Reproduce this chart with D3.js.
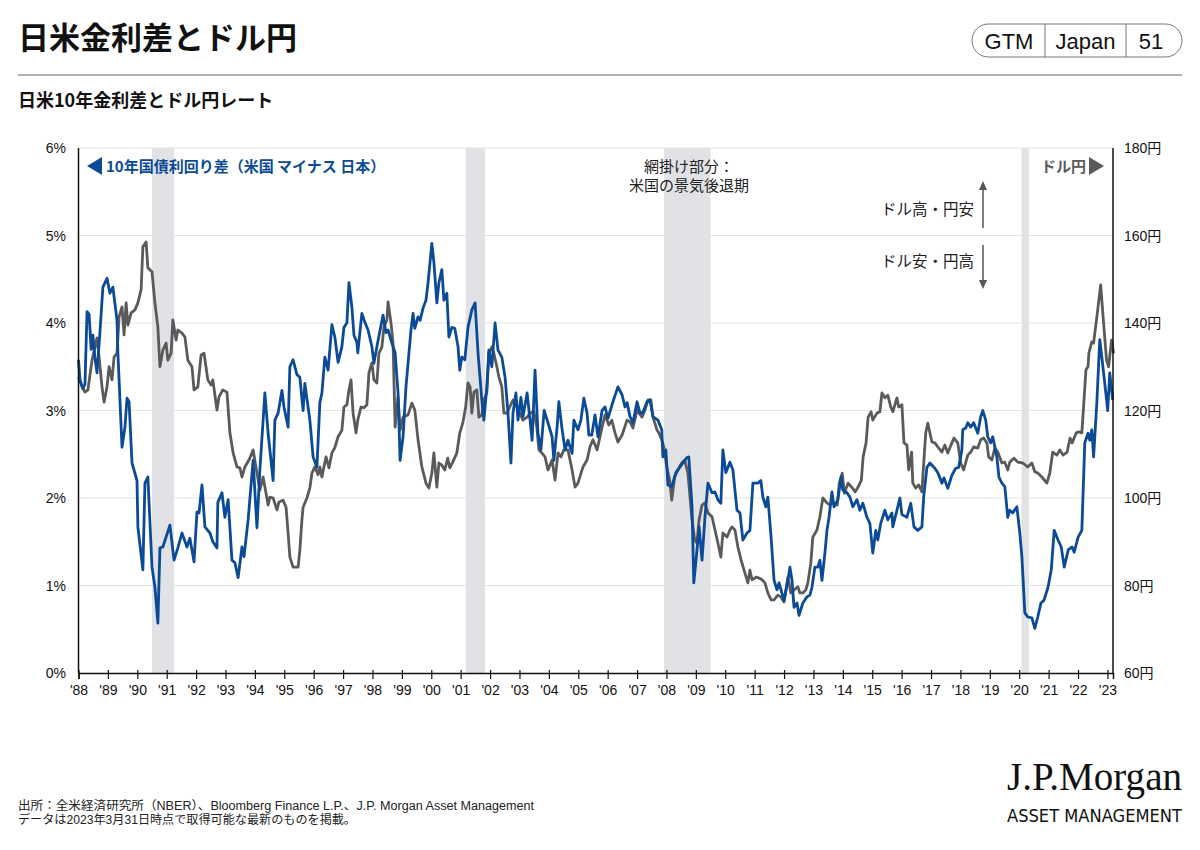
<!DOCTYPE html>
<html><head><meta charset="utf-8">
<script src="https://cdn.jsdelivr.net/npm/d3@7"></script>
<style>
body{margin:0;background:#fff;}
svg{display:block;font-family:"Liberation Sans","Noto Sans CJK JP",sans-serif;}
.jp{font-family:"Noto Sans CJK JP","Liberation Sans",sans-serif;}
</style></head><body>
<svg id="c" width="1200" height="850"></svg>
<script>
// ---- data ----
const yearTicks = d3.range(1988, 2024);
const spreadTicks = [0,1,2,3,4,5,6];
const yenTicks = [60,80,100,120,140,160,180];
const recessions = [[1990.5,1991.25],[2001.17,2001.83],[2007.92,2009.5],[2020.08,2020.33]];
const spreadSeries = [
[1988.00,3.58],[1988.05,3.35],[1988.15,3.25],[1988.22,3.3],[1988.29,4.13],[1988.36,4.1],[1988.43,3.7],[1988.49,3.86],[1988.56,3.6],[1988.63,3.43],[1988.73,3.9],[1988.83,4.41],[1988.97,4.51],[1989.07,4.34],[1989.17,4.41],[1989.31,4.03],[1989.34,3.66],[1989.48,2.58],[1989.58,2.81],[1989.65,3.14],[1989.72,3.1],[1989.82,2.4],[1989.99,2.2],[1990.02,1.67],[1990.19,1.18],[1990.26,2.17],[1990.36,2.24],[1990.50,1.21],[1990.60,0.98],[1990.70,0.57],[1990.77,1.43],[1990.87,1.44],[1991.11,1.69],[1991.25,1.29],[1991.38,1.43],[1991.52,1.6],[1991.69,1.44],[1991.79,1.54],[1991.93,1.27],[1992.03,1.84],[1992.10,1.83],[1992.20,2.15],[1992.30,1.67],[1992.47,1.6],[1992.57,1.5],[1992.71,1.43],[1992.74,1.95],[1992.88,2.06],[1992.98,1.78],[1993.09,1.98],[1993.22,1.29],[1993.32,1.26],[1993.43,1.09],[1993.56,1.44],[1993.63,1.33],[1993.77,1.75],[1993.94,2.43],[1994.07,1.66],[1994.17,2.32],[1994.34,3.2],[1994.45,2.74],[1994.62,2.2],[1994.68,2.89],[1994.79,2.97],[1994.92,3.23],[1994.99,3.04],[1995.13,2.81],[1995.19,3.5],[1995.30,3.58],[1995.43,3.41],[1995.53,3.38],[1995.64,3.0],[1995.70,3.31],[1995.87,2.89],[1995.98,2.47],[1996.11,2.35],[1996.21,3.09],[1996.28,3.2],[1996.38,3.61],[1996.49,3.46],[1996.62,3.98],[1996.72,3.84],[1996.83,3.55],[1996.96,3.73],[1997.03,3.95],[1997.13,4.0],[1997.20,4.46],[1997.30,4.18],[1997.37,3.86],[1997.47,3.78],[1997.50,3.66],[1997.64,4.11],[1997.74,4.01],[1997.85,3.92],[1997.98,3.73],[1998.05,3.54],[1998.15,3.73],[1998.26,3.92],[1998.36,4.09],[1998.46,3.89],[1998.53,3.92],[1998.66,3.77],[1998.77,3.66],[1998.87,3.2],[1998.94,2.43],[1999.04,2.7],[1999.14,3.27],[1999.21,3.54],[1999.31,3.92],[1999.38,4.11],[1999.44,3.94],[1999.55,4.07],[1999.62,4.03],[1999.72,4.17],[1999.82,4.26],[1999.89,4.46],[2000.02,4.91],[2000.09,4.69],[2000.19,4.23],[2000.26,4.46],[2000.36,4.61],[2000.43,4.26],[2000.53,4.34],[2000.60,3.84],[2000.70,3.95],[2000.80,3.94],[2000.91,3.73],[2000.97,3.46],[2001.04,3.61],[2001.14,3.58],[2001.25,3.95],[2001.38,4.15],[2001.49,4.23],[2001.59,3.66],[2001.72,3.12],[2001.79,2.89],[2001.89,3.27],[2001.96,3.69],[2002.06,3.5],[2002.17,4.0],[2002.27,3.69],[2002.40,3.61],[2002.51,3.38],[2002.61,2.97],[2002.71,2.4],[2002.78,2.97],[2002.88,3.2],[2002.95,2.89],[2003.05,3.15],[2003.12,2.93],[2003.26,3.2],[2003.36,2.89],[2003.43,2.66],[2003.53,3.46],[2003.63,2.74],[2003.73,2.55],[2003.84,3.0],[2003.97,2.86],[2004.11,2.7],[2004.17,2.43],[2004.28,2.81],[2004.34,3.1],[2004.44,2.81],[2004.55,2.55],[2004.65,2.66],[2004.79,2.51],[2004.85,2.89],[2004.99,2.78],[2005.09,2.89],[2005.19,3.14],[2005.30,2.97],[2005.36,2.72],[2005.46,2.72],[2005.57,2.95],[2005.67,2.7],[2005.81,3.0],[2005.91,3.04],[2006.01,2.91],[2006.18,3.1],[2006.35,3.27],[2006.49,3.18],[2006.59,3.04],[2006.66,3.09],[2006.76,2.93],[2006.86,2.86],[2007.00,3.1],[2007.10,2.97],[2007.20,2.98],[2007.34,3.1],[2007.44,3.12],[2007.54,2.93],[2007.71,2.89],[2007.84,2.78],[2007.88,2.47],[2007.98,2.55],[2008.05,2.15],[2008.18,2.13],[2008.32,2.29],[2008.45,2.35],[2008.56,2.4],[2008.69,2.46],[2008.76,2.47],[2008.87,1.9],[2008.93,1.03],[2009.04,1.41],[2009.11,1.67],[2009.21,1.29],[2009.31,1.78],[2009.41,2.17],[2009.55,2.06],[2009.65,2.07],[2009.75,1.98],[2009.85,1.94],[2009.92,2.55],[2010.02,2.29],[2010.16,2.41],[2010.26,2.32],[2010.40,1.86],[2010.50,1.83],[2010.60,1.52],[2010.74,1.6],[2010.84,1.63],[2010.94,2.17],[2011.11,2.17],[2011.21,2.2],[2011.28,2.01],[2011.38,1.9],[2011.45,2.01],[2011.56,1.55],[2011.66,1.06],[2011.76,0.95],[2011.83,1.03],[2011.93,0.91],[2012.00,0.83],[2012.13,1.06],[2012.20,1.21],[2012.27,1.06],[2012.34,0.75],[2012.44,0.8],[2012.51,0.66],[2012.64,0.8],[2012.78,0.87],[2012.88,0.89],[2012.95,0.98],[2013.05,1.21],[2013.15,1.21],[2013.22,1.29],[2013.29,1.06],[2013.39,1.37],[2013.46,1.63],[2013.53,1.78],[2013.63,2.07],[2013.70,1.9],[2013.83,1.98],[2013.94,2.24],[2014.00,2.09],[2014.14,2.06],[2014.24,2.01],[2014.34,1.9],[2014.48,1.98],[2014.58,1.86],[2014.68,1.94],[2014.82,1.78],[2014.92,1.71],[2015.02,1.37],[2015.12,1.63],[2015.19,1.52],[2015.29,1.71],[2015.43,1.86],[2015.53,1.75],[2015.67,1.83],[2015.70,1.67],[2015.84,1.86],[2015.94,2.0],[2016.01,1.81],[2016.18,1.78],[2016.31,1.94],[2016.42,1.67],[2016.55,1.63],[2016.69,1.67],[2016.75,2.01],[2016.86,2.35],[2016.96,2.4],[2017.13,2.34],[2017.23,2.29],[2017.37,2.17],[2017.44,2.23],[2017.57,2.11],[2017.71,2.26],[2017.84,2.34],[2017.94,2.35],[2018.05,2.55],[2018.08,2.78],[2018.18,2.8],[2018.25,2.86],[2018.35,2.81],[2018.45,2.86],[2018.59,2.74],[2018.69,2.93],[2018.76,3.0],[2018.86,2.89],[2018.93,2.7],[2019.03,2.63],[2019.10,2.7],[2019.24,2.47],[2019.31,2.24],[2019.41,2.17],[2019.51,2.13],[2019.61,1.78],[2019.68,1.86],[2019.78,1.83],[2019.92,1.9],[2020.02,1.6],[2020.09,1.33],[2020.19,0.69],[2020.29,0.64],[2020.43,0.63],[2020.53,0.51],[2020.63,0.64],[2020.74,0.8],[2020.84,0.83],[2020.98,0.98],[2021.09,1.18],[2021.19,1.63],[2021.32,1.52],[2021.43,1.44],[2021.53,1.21],[2021.67,1.41],[2021.80,1.44],[2021.87,1.38],[2022.00,1.55],[2022.13,1.63],[2022.23,2.63],[2022.34,2.74],[2022.40,2.66],[2022.47,2.78],[2022.53,2.47],[2022.64,3.09],[2022.74,3.81],[2022.81,3.61],[2022.91,3.31],[2023.01,3.0],[2023.08,3.43],[2023.18,3.12]
];
const usdJpySeries = [
[1988.00,127.7],[1988.12,125.4],[1988.22,124.2],[1988.32,124.7],[1988.46,131.5],[1988.56,134.5],[1988.63,136.6],[1988.70,132.2],[1988.80,125.4],[1988.87,121.9],[1988.97,125.4],[1989.04,130],[1989.14,127],[1989.21,132.2],[1989.31,133.1],[1989.38,141.4],[1989.48,143.7],[1989.55,137.3],[1989.62,144.6],[1989.68,139.5],[1989.79,142.3],[1989.92,143],[1990.02,144.6],[1990.13,147.6],[1990.19,157.4],[1990.30,158.5],[1990.36,152.6],[1990.50,151.7],[1990.60,144.6],[1990.70,139.1],[1990.77,130],[1990.87,133.8],[1990.98,135.4],[1991.04,131.5],[1991.15,133.1],[1991.21,140.7],[1991.32,136.1],[1991.38,138.4],[1991.52,137.7],[1991.62,136.8],[1991.72,131.5],[1991.86,130],[1991.93,124.7],[1992.06,125.4],[1992.17,132.7],[1992.27,133.1],[1992.40,127],[1992.51,125.8],[1992.57,127],[1992.71,120.1],[1992.78,123.1],[1992.91,124.7],[1993.05,124.2],[1993.15,114.9],[1993.26,110.3],[1993.39,107.1],[1993.49,106.9],[1993.56,104.8],[1993.66,107.1],[1993.83,109.1],[1993.94,111],[1994.07,105.7],[1994.17,101.8],[1994.28,104.8],[1994.45,98.4],[1994.51,100.2],[1994.62,100],[1994.75,97.3],[1994.82,99.1],[1994.96,99.5],[1995.06,97.9],[1995.13,92],[1995.19,86.5],[1995.30,84.2],[1995.47,84.2],[1995.53,88.1],[1995.60,95],[1995.64,97.9],[1995.77,100],[1995.87,102.3],[1995.94,105.7],[1996.04,107.1],[1996.15,105.3],[1996.21,107.1],[1996.28,104.8],[1996.42,109.4],[1996.52,106.9],[1996.62,110.3],[1996.72,111.5],[1996.83,114],[1996.96,115.5],[1997.03,120.8],[1997.13,121.3],[1997.20,124.7],[1997.27,127],[1997.34,119.4],[1997.44,114.9],[1997.50,117.8],[1997.61,120.8],[1997.71,120.6],[1997.81,121.3],[1997.88,128.6],[1997.98,130.9],[1998.05,127],[1998.15,126.3],[1998.22,133.1],[1998.32,134.5],[1998.39,139.1],[1998.49,140.7],[1998.53,144.8],[1998.63,140],[1998.70,135.4],[1998.77,116.2],[1998.87,123.1],[1998.94,115.5],[1999.04,118.5],[1999.21,119],[1999.34,121.7],[1999.44,120.1],[1999.55,113.3],[1999.68,107.1],[1999.82,103.4],[1999.92,102.3],[2000.02,105.7],[2000.09,110.3],[2000.19,102.5],[2000.26,108],[2000.36,107.5],[2000.46,106.4],[2000.56,109.1],[2000.63,106.9],[2000.73,108.2],[2000.87,110.3],[2000.97,114.9],[2001.07,117.1],[2001.17,120.8],[2001.25,126.3],[2001.32,125.4],[2001.38,119.4],[2001.45,124.2],[2001.55,124.7],[2001.62,118.5],[2001.72,119],[2001.79,122.4],[2001.89,124],[2001.96,133.1],[2002.06,134.5],[2002.13,133.1],[2002.23,130],[2002.30,127.7],[2002.40,125.4],[2002.47,119.4],[2002.57,119.4],[2002.67,120.8],[2002.78,122.4],[2002.91,120.8],[2003.01,119.4],[2003.12,117.8],[2003.26,118.5],[2003.36,119.4],[2003.49,119.7],[2003.59,116.2],[2003.66,111],[2003.76,110.3],[2003.87,109.4],[2003.97,106.4],[2004.11,108.7],[2004.21,104.1],[2004.31,110.3],[2004.41,109.4],[2004.51,111],[2004.65,111],[2004.79,106.4],[2004.89,102.5],[2004.99,103.4],[2005.16,107.1],[2005.30,108.7],[2005.40,111.7],[2005.50,113.3],[2005.64,111],[2005.81,116.2],[2005.91,119],[2006.04,116.7],[2006.14,117.8],[2006.25,114.9],[2006.35,112.8],[2006.49,114.4],[2006.66,117.8],[2006.76,117.4],[2006.86,116],[2007.00,120.1],[2007.17,118.5],[2007.27,120.1],[2007.37,122.4],[2007.47,122.4],[2007.54,118.5],[2007.68,115.5],[2007.74,114.9],[2007.84,113.3],[2007.91,111.7],[2008.01,107.1],[2008.11,104.1],[2008.18,99.5],[2008.28,104.8],[2008.39,106.4],[2008.52,108],[2008.62,108.7],[2008.73,105.7],[2008.79,101.1],[2008.86,95.7],[2008.96,90.4],[2009.04,89.7],[2009.11,95],[2009.21,98.4],[2009.31,98.9],[2009.41,96.6],[2009.55,95.7],[2009.65,92.7],[2009.75,89.7],[2009.85,86.5],[2009.92,92],[2010.06,91.1],[2010.16,92.7],[2010.23,93.4],[2010.33,92.7],[2010.43,88.8],[2010.54,85.8],[2010.64,83.5],[2010.77,80.6],[2010.84,83.5],[2010.91,81.3],[2011.05,81.9],[2011.15,81.7],[2011.25,81.3],[2011.35,80.6],[2011.45,78.3],[2011.56,76.7],[2011.66,76.7],[2011.79,77.8],[2011.89,77.4],[2012.00,76.2],[2012.13,81.9],[2012.23,78.3],[2012.34,79],[2012.47,79.7],[2012.54,78.3],[2012.64,78.3],[2012.74,79],[2012.81,80.6],[2012.91,85.1],[2012.98,91.1],[2013.12,92.7],[2013.22,95.7],[2013.32,100],[2013.46,98.9],[2013.56,98.4],[2013.67,98.9],[2013.81,98.4],[2013.88,103.4],[2013.98,105.7],[2014.05,101.1],[2014.18,103.4],[2014.32,102.3],[2014.42,101.4],[2014.52,102.5],[2014.63,104.1],[2014.69,109.4],[2014.79,112.6],[2014.86,118.5],[2014.96,119.7],[2015.02,117.8],[2015.16,119.4],[2015.26,119.7],[2015.33,124],[2015.43,122.9],[2015.53,123.5],[2015.63,120.8],[2015.70,119.7],[2015.84,122.9],[2015.90,120.8],[2016.01,121.3],[2016.08,112.6],[2016.18,112.1],[2016.24,106.4],[2016.34,110.5],[2016.38,103.4],[2016.48,102.3],[2016.58,103],[2016.69,101.4],[2016.72,104.8],[2016.82,114.9],[2016.89,117.1],[2017.03,112.8],[2017.13,112.6],[2017.23,111.7],[2017.37,110.5],[2017.47,112.1],[2017.57,110.3],[2017.71,112.6],[2017.78,113.7],[2017.91,112.6],[2018.01,108],[2018.11,106.4],[2018.25,109.8],[2018.35,110.5],[2018.45,111.7],[2018.59,111.4],[2018.69,113.3],[2018.79,113.7],[2018.90,112.6],[2018.96,109.4],[2019.07,108.7],[2019.17,111.4],[2019.27,110.5],[2019.41,108],[2019.51,108.2],[2019.61,106.4],[2019.68,108.2],[2019.82,109.1],[2019.95,108.2],[2020.12,108],[2020.29,107.1],[2020.43,108],[2020.53,106],[2020.63,105.7],[2020.77,104.8],[2020.94,103.4],[2021.04,105.7],[2021.14,110.5],[2021.28,109.8],[2021.38,111],[2021.49,109.8],[2021.63,110.5],[2021.73,113.7],[2021.80,112.6],[2021.94,114.9],[2022.04,115.1],[2022.13,114.9],[2022.20,122],[2022.27,129.3],[2022.34,130],[2022.37,133.1],[2022.47,135.7],[2022.53,135.4],[2022.67,143],[2022.77,148.7],[2022.87,140],[2022.97,131.5],[2023.04,130],[2023.14,136.1],[2023.21,133.1]
];

// ---- layout ----
const svg = d3.select("#c");
const L = 78.5, R = 1113, T = 148, B = 673;
const x = d3.scaleLinear().domain([1988, 2023.19]).range([L, R]);
const yL = d3.scaleLinear().domain([0, 6]).range([B, T]);
const yR = d3.scaleLinear().domain([60, 180]).range([B, T]);
const BLUE = "#0b4a96", GRAY = "#5a5a5a";

// header
svg.append("text").attr("class","jp").attr("x",18).attr("y",49).attr("font-size",31).attr("font-weight",700).attr("fill","#111").text("日米金利差とドル円");
const bx = 972, by = 24, bw = 210, bh = 33;
svg.append("rect").attr("x",bx).attr("y",by).attr("width",bw).attr("height",bh).attr("rx",16.5).attr("fill","none").attr("stroke","#777").attr("stroke-width",1);
[1045,1126].forEach(v=>svg.append("line").attr("x1",v).attr("x2",v).attr("y1",by).attr("y2",by+bh).attr("stroke","#777"));
[["GTM",1009],["Japan",1085.5],["51",1151]].forEach(([t,cx])=>svg.append("text").attr("x",cx).attr("y",49).attr("text-anchor","middle").attr("font-size",22).attr("fill","#111").text(t));
svg.append("line").attr("x1",18).attr("x2",1182).attr("y1",75).attr("y2",75).attr("stroke","#999").attr("stroke-width",1.5);
svg.append("text").attr("class","jp").attr("x",18).attr("y",107).attr("font-size",18).attr("font-weight",700).attr("fill","#111").text("日米10年金利差とドル円レート");

// gridlines
svg.append("g").selectAll("line").data(spreadTicks.slice(1)).join("line")
  .attr("x1",L).attr("x2",R).attr("y1",d=>yL(d)).attr("y2",d=>yL(d)).attr("stroke","#e3e3e3").attr("stroke-width",1);

// recessions
svg.append("g").selectAll("rect").data(recessions).join("rect")
  .attr("x",d=>x(d[0])).attr("width",d=>x(d[1])-x(d[0])).attr("y",T).attr("height",B-T).attr("fill","#e0e2e5");

// lines
const line = (ys)=>d3.line().x(d=>x(d[0])).y(d=>ys(d[1])).curve(d3.curveLinear);
svg.append("path").datum(usdJpySeries).attr("d",line(yR)).attr("fill","none").attr("stroke",GRAY).attr("stroke-width",2.8).attr("stroke-linejoin","round");
svg.append("path").datum(spreadSeries).attr("d",line(yL)).attr("fill","none").attr("stroke",BLUE).attr("stroke-width",2.8).attr("stroke-linejoin","round");

// axes
const gx = svg.append("g").attr("transform",`translate(0,${B})`)
  .call(d3.axisBottom(x).tickValues(yearTicks).tickSize(6).tickFormat(d=>"'"+String(d).slice(2)));
gx.select(".domain").attr("stroke","#111").attr("stroke-width",1.5);
gx.selectAll(".tick line").attr("stroke","#111").attr("stroke-width",1.2).attr("y1",-3);
gx.selectAll(".tick text").attr("font-size",14).attr("fill","#111").attr("dy","0.9em").attr("font-family","Liberation Sans");

svg.append("line").attr("x1",L).attr("x2",L).attr("y1",T).attr("y2",B).attr("stroke","#111").attr("stroke-width",1.5);
svg.append("line").attr("x1",R).attr("x2",R).attr("y1",T).attr("y2",B).attr("stroke","#111").attr("stroke-width",1.5);

svg.append("g").selectAll("text").data(spreadTicks).join("text")
  .attr("x",66).attr("y",d=>yL(d)+5).attr("text-anchor","end").attr("font-size",14).attr("fill","#111").text(d=>d+"%");
svg.append("g").selectAll("text").data(yenTicks).join("text")
  .attr("x",1124).attr("y",d=>yR(d)+5).attr("text-anchor","start").attr("font-size",14).attr("fill","#111").text(d=>d+"円");

// legends
svg.append("path").attr("d","M87,166 L102,157 L102,175 Z").attr("fill",BLUE);
svg.append("text").attr("class","jp").attr("x",106).attr("y",171.5).attr("font-size",15).attr("font-weight",700).attr("fill",BLUE).text("10年国債利回り差（米国 マイナス 日本）");
svg.append("path").attr("d","M1104,166 L1089,157 L1089,175 Z").attr("fill",GRAY);
svg.append("text").attr("class","jp").attr("x",1086).attr("y",171.5).attr("text-anchor","end").attr("font-size",15).attr("font-weight",700).attr("fill",GRAY).text("ドル円");

// annotations
svg.append("text").attr("class","jp").attr("x",689).attr("y",172).attr("text-anchor","middle").attr("font-size",15).attr("fill","#222").text("網掛け部分：");
svg.append("text").attr("class","jp").attr("x",689).attr("y",191).attr("text-anchor","middle").attr("font-size",15).attr("fill","#222").text("米国の景気後退期");
svg.append("text").attr("class","jp").attr("x",974).attr("y",215).attr("text-anchor","end").attr("font-size",15.5).attr("fill","#222").text("ドル高・円安");
svg.append("text").attr("class","jp").attr("x",974).attr("y",267).attr("text-anchor","end").attr("font-size",15.5).attr("fill","#222").text("ドル安・円高");
svg.append("line").attr("x1",983).attr("x2",983).attr("y1",228).attr("y2",188).attr("stroke","#555").attr("stroke-width",1.5);
svg.append("path").attr("d","M979,190 L983,181 L987,190 Z").attr("fill","#555");
svg.append("line").attr("x1",983).attr("x2",983).attr("y1",245).attr("y2",282).attr("stroke","#555").attr("stroke-width",1.5);
svg.append("path").attr("d","M979,280 L983,289 L987,280 Z").attr("fill","#555");

// footer
svg.append("text").attr("x",18).attr("y",810).attr("font-size",12).attr("fill","#222").attr("textLength",516).attr("lengthAdjust","spacingAndGlyphs").text("出所：全米経済研究所（NBER）、Bloomberg Finance L.P.、J.P. Morgan Asset Management");
svg.append("text").attr("x",18).attr("y",824).attr("font-size",12).attr("fill","#222").attr("textLength",338).attr("lengthAdjust","spacingAndGlyphs").text("データは2023年3月31日時点で取得可能な最新のものを掲載。");
svg.append("text").attr("x",1182).attr("y",790).attr("text-anchor","end").attr("font-size",39).attr("font-family","Liberation Serif, DejaVu Serif, serif").attr("fill","#111").attr("textLength",175).attr("lengthAdjust","spacingAndGlyphs").text("J.P.Morgan");
svg.append("text").attr("x",1182).attr("y",822).attr("text-anchor","end").attr("font-size",17).attr("font-family","DejaVu Sans Condensed, Liberation Sans, sans-serif").attr("font-stretch","condensed").attr("fill","#111").attr("textLength",175).attr("lengthAdjust","spacingAndGlyphs").text("ASSET MANAGEMENT");
</script></body></html>
